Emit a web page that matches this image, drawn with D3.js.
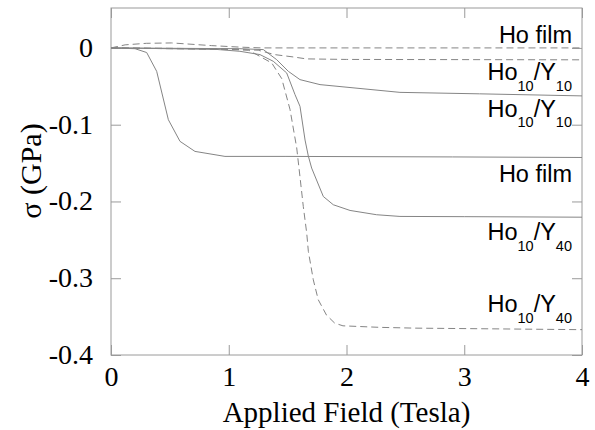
<!DOCTYPE html>
<html>
<head>
<meta charset="utf-8">
<script src="https://cdn.jsdelivr.net/npm/d3@7/dist/d3.min.js"></script>
<style>
  html, body { margin: 0; padding: 0; background: #fff; }
  svg { display: block; }
</style>
</head>
<body>
<svg id="chart" width="595" height="430"></svg>
<script>
// ---------- data ----------
const xTicks = [0, 1, 2, 3, 4];
const yTicks = [0, -0.1, -0.2, -0.3, -0.4];
const yTickLabels = ["0", "-0.1", "-0.2", "-0.3", "-0.4"];

// Ho film, solid
const hoFilmSolidX = [0, 0.204, 0.303, 0.388, 0.487, 0.586, 0.713, 0.968, 1.478, 2.9, 4.0];
const hoFilmSolidY = [0, -0.001, -0.006, -0.0305, -0.0935, -0.1217, -0.1348, -0.1413, -0.1413, -0.142, -0.1427];

// Ho film, dashed
const hoFilmDashX = [0, 0.12, 0.3, 0.515, 0.855, 1.1, 1.28, 4.0];
const hoFilmDashY = [0, 0.004, 0.006, 0.0065, 0.003, 0.001, 0, 0];

// Ho10/Y10, solid
const hoY10SolidX = [0, 0.5, 1.095, 1.294, 1.407, 1.506, 1.605, 1.775, 2.454, 3.13, 4.0];
const hoY10SolidY = [0, -0.0005, -0.001, -0.0022, -0.0153, -0.0305, -0.0413, -0.0478, -0.0579, -0.0598, -0.0625];

// Ho10/Y10, dashed
const hoY10DashX = [0, 0.5, 1.0, 1.25, 1.39, 1.55, 1.66, 2.0, 4.0];
const hoY10DashY = [0, -0.0005, -0.0015, -0.003, -0.0087, -0.0118, -0.0143, -0.015, -0.0155];

// Ho10/Y40, solid
const hoY40SolidX = [0, 0.5, 0.9, 1.095, 1.265, 1.378, 1.492, 1.563, 1.605, 1.648, 1.676, 1.704, 1.803, 1.888, 2.03, 2.256, 2.454, 3.0, 4.0];
const hoY40SolidY = [0, -0.001, -0.002, -0.0044, -0.0087, -0.0174, -0.0326, -0.0609, -0.0761, -0.12, -0.141, -0.1565, -0.1935, -0.2043, -0.2117, -0.2173, -0.2195, -0.2198, -0.2205];

// Ho10/Y40, dashed
const hoY40DashX = [0, 0.5, 1.0, 1.17, 1.365, 1.45, 1.52, 1.577, 1.605, 1.633, 1.662, 1.676, 1.718, 1.76, 1.83, 1.90, 1.97, 2.285, 2.58, 4.0];
const hoY40DashY = [0, -0.001, -0.002, -0.003, -0.0196, -0.04, -0.08, -0.13, -0.168, -0.2065, -0.241, -0.265, -0.302, -0.328, -0.348, -0.3585, -0.362, -0.364, -0.365, -0.367];

const series = [
  { x: hoFilmSolidX, y: hoFilmSolidY, dashed: false },
  { x: hoFilmDashX,  y: hoFilmDashY,  dashed: true },
  { x: hoY10SolidX,  y: hoY10SolidY,  dashed: false },
  { x: hoY10DashX,   y: hoY10DashY,   dashed: true },
  { x: hoY40SolidX,  y: hoY40SolidY,  dashed: false },
  { x: hoY40DashX,   y: hoY40DashY,   dashed: true }
];

// labels: [main, sub1, mid, sub2]
const labelTexts = [
  ["Ho film"],
  ["Ho", "10", "/Y", "10"],
  ["Ho", "10", "/Y", "10"],
  ["Ho film"],
  ["Ho", "10", "/Y", "40"],
  ["Ho", "10", "/Y", "40"]
];
const labelBaselines = [43, 80, 116.7, 181.7, 240, 312.3];

// ---------- layout ----------
const svg = d3.select("#chart");
const L = 111, R = 582, T = 8, B = 355;
const x = d3.scaleLinear().domain([0, 4]).range([L, R]);
const y = d3.scaleLinear().domain([-0.4, 0.052]).range([B, T]);

const frameColor = "#9a9a9a";
const lineColor = "#858585";
const tickLen = 10;

// frame
svg.append("rect")
  .attr("x", L).attr("y", T)
  .attr("width", R - L).attr("height", B - T)
  .attr("fill", "none").attr("stroke", frameColor).attr("stroke-width", 1);

// axes via d3
const serif = "'Liberation Serif','Times New Roman',serif";
const xAxis = svg.append("g").attr("transform", `translate(0,${B})`)
  .call(d3.axisBottom(x).tickValues(xTicks).tickSize(-tickLen).tickPadding(14).tickFormat(d3.format("d")));
const xAxisTop = svg.append("g").attr("transform", `translate(0,${T})`)
  .call(d3.axisTop(x).tickValues(xTicks).tickSize(-tickLen).tickFormat(""));
const yAxis = svg.append("g").attr("transform", `translate(${L},0)`)
  .call(d3.axisLeft(y).tickValues(yTicks).tickSize(-tickLen).tickPadding(18).tickFormat((d, i) => yTickLabels[i]));
const yAxisRight = svg.append("g").attr("transform", `translate(${R},0)`)
  .call(d3.axisRight(y).tickValues(yTicks).tickSize(-tickLen).tickFormat(""));

[xAxis, xAxisTop, yAxis, yAxisRight].forEach(g => {
  g.attr("font-family", serif);
  g.select(".domain").remove();
  g.selectAll(".tick line").attr("stroke", frameColor);
  g.selectAll(".tick text")
    .attr("font-family", serif)
    .attr("font-size", 28)
    .attr("fill", "#000");
});
xAxis.selectAll(".tick text").attr("dy", "0.71em").attr("y", 11);
yAxis.selectAll(".tick text").attr("dy", "0.30em");

// curves
const line = d3.line().x(d => x(d[0])).y(d => y(d[1]));
series.forEach(s => {
  const pts = s.x.map((v, i) => [v, s.y[i]]);
  svg.append("path")
    .attr("d", line(pts))
    .attr("fill", "none")
    .attr("stroke", lineColor)
    .attr("stroke-width", 1)
    .attr("stroke-dasharray", s.dashed ? "7,4" : null);
});

// curve labels
const sans = "'Liberation Sans', Arial, sans-serif";
labelTexts.forEach((parts, i) => {
  const t = svg.append("text")
    .attr("x", 572).attr("y", labelBaselines[i])
    .attr("text-anchor", "end")
    .attr("font-family", sans)
    .attr("font-size", 23.5)
    .attr("fill", "#000");
  if (parts.length === 1) {
    t.text(parts[0]);
  } else {
    t.append("tspan").text(parts[0]);
    t.append("tspan").attr("font-size", 14.5).attr("dy", 10.7).text(parts[1]);
    t.append("tspan").attr("dy", -10.7).text(parts[2]);
    t.append("tspan").attr("font-size", 14.5).attr("dy", 10.7).text(parts[3]);
  }
});

// axis titles
svg.append("text")
  .attr("x", 346.5).attr("y", 422)
  .attr("text-anchor", "middle")
  .attr("font-family", serif)
  .attr("font-size", 29)
  .attr("fill", "#000")
  .text("Applied Field (Tesla)");

svg.append("text")
  .attr("transform", "translate(41,171) rotate(-90)")
  .attr("text-anchor", "middle")
  .attr("font-family", serif)
  .attr("font-size", 30)
  .attr("fill", "#000")
  .text("σ (GPa)");
</script>
</body>
</html>
